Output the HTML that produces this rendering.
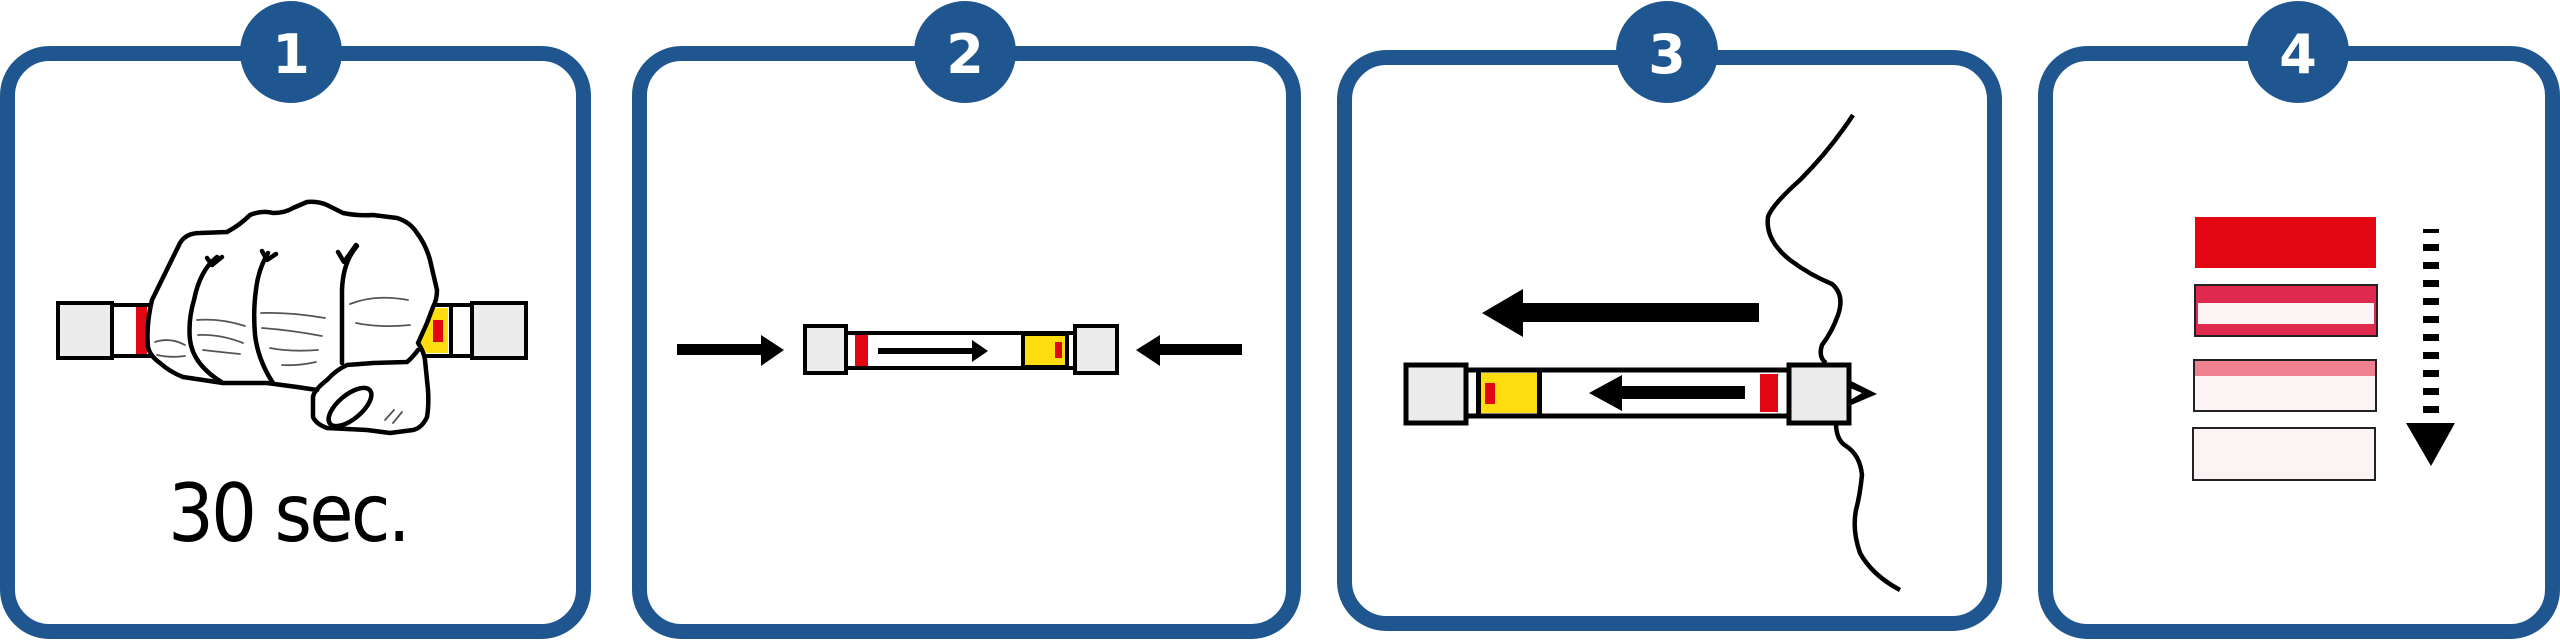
<!DOCTYPE html>
<html><head><meta charset="utf-8"><style>
html,body{margin:0;padding:0;background:#fff;}
svg{display:block;}
</style></head><body>
<svg width="2560" height="640" viewBox="0 0 2560 640" xmlns="http://www.w3.org/2000/svg">
<rect width="2560" height="640" fill="#fff"/>
<g fill="#fff" stroke="#1f568f" stroke-width="15">
  <rect x="7.5" y="53.5" width="576" height="578" rx="42"/>
  <rect x="639.5" y="53.5" width="654" height="578" rx="42"/>
  <rect x="1344.5" y="57.5" width="650" height="566" rx="42"/>
  <rect x="2045.5" y="53.5" width="507" height="578" rx="42"/>
</g>
<g fill="#1f568f">
  <circle cx="291" cy="52" r="51"/>
  <circle cx="965" cy="52" r="51"/>
  <circle cx="1667" cy="52" r="51"/>
  <circle cx="2298" cy="52" r="51"/>
</g>
<g fill="#fff" font-family="DejaVu Sans, sans-serif" font-weight="bold" font-size="54" text-anchor="middle">
  <text x="291" y="73">1</text>
  <text x="965" y="73">2</text>
  <text x="1667" y="73">3</text>
  <text x="2298" y="73">4</text>
</g>

<!-- Panel 1 -->
<g stroke="#000" stroke-width="4">
  <rect x="58" y="303" width="54" height="55" fill="#ececec"/>
  <rect x="112" y="305" width="45" height="51" fill="#fff"/>
  <rect x="410" y="305" width="62" height="51" fill="#fff"/>
  <rect x="472" y="303" width="54" height="55" fill="#ececec"/>
</g>
<rect x="136" y="307" width="11" height="47" fill="#e30613"/>
<rect x="418" y="308" width="30" height="45" fill="#ffdc0e"/>
<rect x="433" y="320" width="10" height="22" fill="#e30613"/>
<rect x="449" y="306" width="4" height="49" fill="#000"/>
<g fill="#fff" stroke="#000" stroke-width="4.5" stroke-linejoin="round" stroke-linecap="round">
  <path d="M148,347 Q146,325 152,300 L180,243 Q186,233 200,233 L227,232 Q240,225 250,215 Q262,210 273,213 Q285,213 293,208 L307,202 Q318,201 327,205 L343,213 Q358,216 373,215 L397,218 Q410,222 417,233 Q426,245 430,260 L437,290 Q437,300 433,307 L427,323 L418,343 Q424,352 425,360 L428,390 Q429,405 427,417 Q422,428 413,430 L390,433 L367,430 L327,428 Q316,424 313,417 L313,397 Q314,392 317,390 L297,387 L267,383 L223,383 L183,377 Q170,372 160,363 Q150,356 148,347 Z"/>
  <path d="M317,390 Q318,387 327,380 Q336,370 347,365 L373,363 L407,362 Q412,358 418,350" fill="none"/>
  <path d="M217,257 Q200,270 194,300 Q188,320 190,340 Q193,365 223,383" fill="none"/>
  <path d="M268,253 Q258,270 256,290 Q253,310 255,335 Q258,360 273,383" fill="none"/>
  <path d="M357,246 Q343,262 342,290 L342,363" fill="none"/>
  <path d="M207,258 L212,265 L222,257 M262,251 L267,260 L276,254 M338,252 L344,262 L356,245" fill="none"/>
  <ellipse cx="350" cy="407" rx="26" ry="12" transform="rotate(-40 350 407)" fill="#fff"/>
</g>
<g fill="none" stroke="#555" stroke-width="1.8" stroke-linecap="round">
  <path d="M155,342 Q170,337 185,345 M157,355 Q170,358 185,356"/>
  <path d="M197,320 Q220,318 245,326 M198,335 Q220,334 243,343 M203,350 Q220,352 240,354"/>
  <path d="M261,313 Q290,312 325,318 M262,328 Q290,330 322,336 M270,348 Q290,352 318,350 M282,365 Q298,366 316,362"/>
  <path d="M350,304 Q375,294 408,300 M356,323 Q380,328 410,325"/>
  <path d="M385,420 L394,410 M393,423 L402,412"/>
</g>
<text x="288" y="541" font-family="DejaVu Sans, sans-serif" font-size="80" text-anchor="middle" letter-spacing="-3" transform="translate(288 0) scale(0.9 1) translate(-288 0)" fill="#000">30 sec.</text>

<!-- Panel 2 -->
<g fill="#000">
  <rect x="677" y="344" width="86" height="11"/>
  <polygon points="761,335 784,350 761,366"/>
  <rect x="1160" y="344" width="82" height="11"/>
  <polygon points="1160,335 1136,350 1160,366"/>
</g>
<g stroke="#000" stroke-width="4">
  <rect x="846" y="333" width="229" height="35" fill="#fff"/>
  <rect x="805" y="326" width="41" height="47" fill="#ececec"/>
  <rect x="1075" y="326" width="42" height="47" fill="#ececec"/>
  <rect x="1023" y="334" width="44" height="33" fill="#ffdc0e"/>
</g>
<rect x="855" y="335" width="13" height="31" fill="#e30613"/>
<rect x="1055" y="342" width="7" height="16" fill="#e30613"/>
<rect x="878" y="348" width="97" height="6" fill="#000"/>
<polygon points="972,340 988,351 972,362" fill="#000"/>

<!-- Panel 3 -->
<path d="M1853,115 Q1830,150 1800,180 Q1772,205 1768,217 Q1765,240 1790,260 Q1810,275 1832,284 Q1845,295 1838,315 Q1832,332 1822,345 Q1818,357 1826,363" fill="none" stroke="#000" stroke-width="4.5"/>
<path d="M1836,423 Q1836,440 1846,446 Q1860,455 1862,475 Q1860,495 1856,510 Q1852,530 1860,553 Q1872,575 1900,590" fill="none" stroke="#000" stroke-width="4.5"/>
<polygon points="1849,380 1877,394 1849,406 1850,400 1862,393 1850,388" fill="#000"/>
<g fill="#000">
  <rect x="1521" y="303" width="238" height="19"/>
  <polygon points="1523,289 1482,313 1523,337"/>
</g>
<g stroke="#000" stroke-width="5">
  <rect x="1466" y="370" width="323" height="46" fill="#fff"/>
  <rect x="1406" y="365" width="60" height="58" fill="#ececec"/>
  <rect x="1789" y="365" width="60" height="58" fill="#ececec"/>
</g>
<rect x="1479" y="373" width="58" height="40" fill="#ffdc0e"/>
<rect x="1476" y="370" width="5" height="46" fill="#000"/>
<rect x="1537" y="370" width="5" height="46" fill="#000"/>
<rect x="1485" y="383" width="10" height="21" fill="#e30613"/>
<rect x="1760" y="374" width="18" height="38" fill="#e30613"/>
<rect x="1620" y="386" width="125" height="13" fill="#000"/>
<polygon points="1622,375 1589,393 1622,411" fill="#000"/>

<!-- Panel 4 -->
<rect x="2195" y="217" width="181" height="51" fill="#e30613"/>
<rect x="2195" y="285" width="182" height="51" fill="#e0294f" stroke="#222" stroke-width="2"/>
<rect x="2198" y="303" width="176" height="21" fill="#fcf3f5"/>
<rect x="2194" y="360" width="182" height="51" fill="#fcf3f5" stroke="#222" stroke-width="2"/>
<rect x="2195" y="361" width="180" height="15" fill="#ee808f"/>
<rect x="2193" y="428" width="182" height="52" fill="#fcf3f5" stroke="#222" stroke-width="2"/>
<g fill="#000">
  <rect x="2423" y="229" width="16" height="4"/>
  <rect x="2423" y="244" width="16" height="7"/>
  <rect x="2423" y="262" width="16" height="7"/>
  <rect x="2423" y="280" width="16" height="7"/>
  <rect x="2423" y="298" width="16" height="7"/>
  <rect x="2423" y="316" width="16" height="7"/>
  <rect x="2423" y="334" width="16" height="7"/>
  <rect x="2423" y="352" width="16" height="7"/>
  <rect x="2423" y="370" width="16" height="7"/>
  <rect x="2423" y="388" width="16" height="7"/>
  <rect x="2423" y="406" width="16" height="7"/>
  <polygon points="2406,423 2455,423 2431,466"/>
</g>
</svg>
</body></html>
